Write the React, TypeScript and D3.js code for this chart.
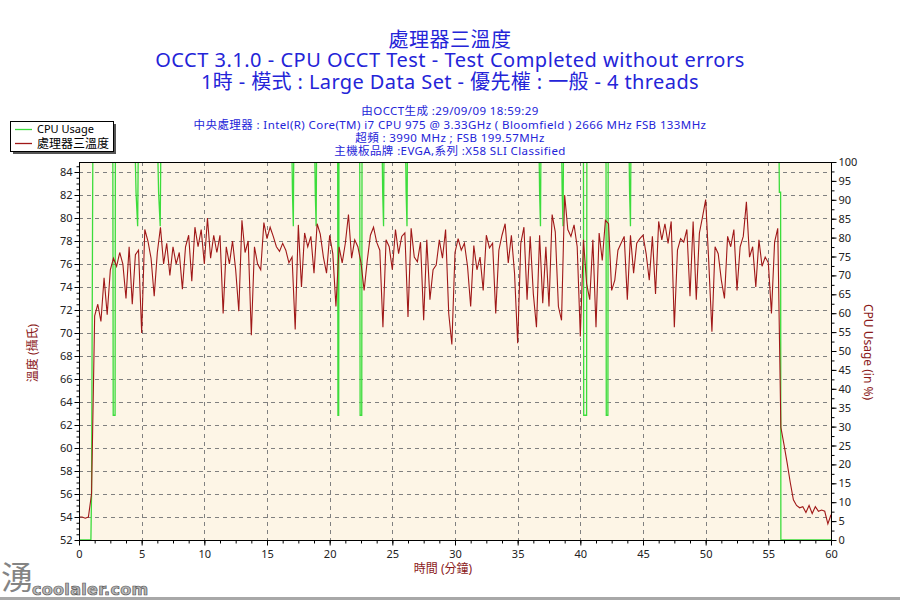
import { useEffect, useRef } from 'react';
import * as d3 from 'd3';

// one temperature reading every 15 seconds (0 .. 60 min)
const SAMPLE_MINUTES = 0.25;
const temperature = [
  54.0, 54.0, 53.9, 54.0, 56.0, 71.5, 72.5, 71.0, 74.8, 71.6,
  75.5, 76.5, 75.8, 77.0, 76.0, 73.0, 77.5, 72.5, 76.8, 77.2,
  70.0, 79.0, 78.0, 76.5, 73.2, 77.0, 79.2, 76.0, 77.8, 75.0,
  77.5, 76.0, 77.0, 73.8, 77.5, 78.5, 74.5, 79.2, 77.5, 79.0,
  76.0, 80.0, 76.5, 78.5, 77.0, 78.5, 71.7, 77.5, 76.0, 78.0,
  75.5, 71.9, 79.8, 77.0, 78.0, 69.8, 77.5, 76.0, 75.5, 79.6,
  78.2, 79.2, 78.4, 77.5, 77.1, 77.8, 77.2, 76.1, 76.6, 70.3,
  79.4, 74.0, 78.7, 77.5, 78.4, 75.2, 79.5, 78.6, 76.6, 75.2,
  78.5, 76.9, 72.3, 77.5, 76.1, 77.8, 80.3, 76.5, 78.1, 77.5,
  76.1, 73.7, 76.3, 78.5, 79.2, 77.9, 77.2, 70.5, 78.1, 77.5,
  75.5, 79.0, 76.9, 78.4, 78.7, 71.4, 79.1, 76.6, 76.2, 77.9,
  71.1, 78.1, 72.9, 75.5, 75.9, 78.1, 76.5, 79.0, 71.7, 69.0,
  77.0, 78.2, 77.2, 77.8, 75.8, 72.3, 77.6, 75.5, 76.6, 73.7,
  78.5, 77.4, 77.8, 71.7, 77.2, 78.5, 79.5, 76.1, 78.5, 75.2,
  69.1, 77.8, 79.2, 72.9, 78.4, 73.4, 70.5, 78.5, 72.6, 77.5,
  72.3, 80.3, 78.8, 72.3, 71.1, 82.0, 79.0, 78.4, 79.4, 77.5,
  69.7, 78.1, 74.3, 72.9, 78.1, 70.5, 78.7, 76.3, 79.8, 79.5,
  73.7, 74.6, 77.2, 77.8, 78.4, 72.9, 78.5, 75.2, 77.8, 78.2,
  78.5, 76.9, 74.6, 78.4, 73.4, 79.7, 78.1, 79.5, 77.8, 79.7,
  70.5, 77.2, 78.2, 77.9, 79.0, 73.2, 79.7, 72.9, 78.7, 80.1,
  81.6, 76.1, 70.1, 77.5, 76.9, 74.6, 73.0, 78.4, 77.5, 79.0,
  73.7, 77.5, 78.4, 81.4, 76.6, 77.5, 74.0, 78.1, 75.8, 76.6,
  76.1, 71.7, 77.9, 79.1, 61.8, 60.3, 58.7, 57.0, 55.5, 55.0,
  54.8, 54.9, 54.4, 55.0, 54.3, 54.9, 54.5, 54.6, 54.5, 53.4,
  54.2,
];

// CPU usage break points (minutes, %)
const cpuMinutes = [
  0, 0.95, 1.0, 1.1,
  2.7, 2.73, 2.88, 2.9,
  4.5, 4.55, 4.68, 4.72,
  6.3, 6.35, 6.48, 6.52,
  17.0, 17.03, 17.1, 17.13,
  18.82, 18.85, 18.92, 18.95,
  20.64, 20.66, 20.72, 20.74,
  22.4, 22.43, 22.56, 22.58,
  24.2, 24.23, 24.3, 24.33,
  26.07, 26.1, 26.17, 26.2,
  36.72, 36.75, 36.82, 36.85,
  38.52, 38.55, 38.62, 38.65,
  40.25, 40.27, 40.5, 40.52,
  42.05, 42.07, 42.2, 42.22,
  43.9, 43.93, 44.0, 44.03,
  55.86, 55.88, 55.98, 56.0, 60,
];
const cpuUsage = [
  0, 0, 12, 100,
  100, 33, 33, 100,
  100, 92, 83, 100,
  100, 92, 83, 100,
  100, 92, 83, 100,
  100, 92, 83, 100,
  100, 33, 33, 100,
  100, 33, 33, 100,
  100, 92, 83, 100,
  100, 92, 83, 100,
  100, 92, 83, 100,
  100, 92, 83, 100,
  100, 33, 33, 100,
  100, 33, 33, 100,
  100, 92, 83, 100,
  100, 92, 92, 0, 0,
];

const minuteTicks = [0, 5, 10, 15, 20, 25, 30, 35, 40, 45, 50, 55, 60];
const tempTicks = [52, 54, 56, 58, 60, 62, 64, 66, 68, 70, 72, 74, 76, 78, 80, 82, 84];
const usageTicks = [0, 5, 10, 15, 20, 25, 30, 35, 40, 45, 50, 55, 60, 65, 70, 75, 80, 85, 90, 95, 100];

const titleLines = [
  '處理器三溫度',
  'OCCT 3.1.0 - CPU OCCT Test - Test Completed without errors',
  '1時 - 模式 : Large Data Set - 優先權 : 一般 - 4 threads',
];
const infoLines = [
  '由OCCT生成 :29/09/09 18:59:29',
  '中央處理器 : Intel(R) Core(TM) i7 CPU 975 @ 3.33GHz ( Bloomfield ) 2666 MHz FSB 133MHz',
  '超頻 : 3990 MHz ; FSB 199.57MHz',
  '主機板品牌 :EVGA,系列 :X58 SLI Classified',
];
const seriesNames = ['CPU Usage', '處理器三溫度'];

const FONT = "'Noto Sans', 'Noto Sans CJK TC', sans-serif";
const GREEN = '#3cdc3c';
const RED = '#a01818';
const AXIS_RED = '#8b1a1a';
const BLUE = '#2424d8';

function App() {
  const svgRef = useRef<SVGSVGElement>(null);

  useEffect(() => {
    const width = 900;
    const height = 600;
    const plot = { left: 79, right: 831, top: 162, bottom: 540 };

    const svg = d3.select(svgRef.current);
    svg.selectAll('*').remove();
    svg.attr('width', width).attr('height', height).style('font-family', FONT);

    svg.append('rect').attr('width', width).attr('height', height).attr('fill', '#fff');

    const x = d3.scaleLinear().domain([0, 60]).range([plot.left, plot.right]);
    const yT = d3.scaleLinear().domain([52, 84]).range([plot.bottom, 172]);
    const yC = d3.scaleLinear().domain([0, 100]).range([plot.bottom, plot.top]);

    // plot background
    svg.append('rect')
      .attr('x', plot.left).attr('y', plot.top)
      .attr('width', plot.right - plot.left).attr('height', plot.bottom - plot.top)
      .attr('fill', '#fdf5e6');

    // grid
    const grid = svg.append('g').attr('stroke', '#808080').attr('stroke-dasharray', '4,4').attr('stroke-width', 1);
    tempTicks.filter(t => t > 52).forEach(t => {
      grid.append('line')
        .attr('x1', plot.left).attr('x2', plot.right)
        .attr('y1', Math.round(yT(t)) + 0.5).attr('y2', Math.round(yT(t)) + 0.5);
    });
    minuteTicks.filter(m => m > 0 && m < 60).forEach(m => {
      grid.append('line')
        .attr('y1', plot.top).attr('y2', plot.bottom)
        .attr('x1', Math.round(x(m)) + 0.5).attr('x2', Math.round(x(m)) + 0.5);
    });

    // series
    svg.append('clipPath').attr('id', 'plot-clip')
      .append('rect')
      .attr('x', plot.left).attr('y', plot.top)
      .attr('width', plot.right - plot.left).attr('height', plot.bottom - plot.top);

    const cpuData = cpuMinutes.map((m, i) => [m, cpuUsage[i]] as [number, number]);
    const tempData = temperature.map((v, i) => [i * SAMPLE_MINUTES, v] as [number, number]);

    const cpuLine = d3.line<[number, number]>().x(d => x(d[0])).y(d => yC(d[1]));
    const tempLine = d3.line<[number, number]>().x(d => x(d[0])).y(d => yT(d[1]));

    const series = svg.append('g').attr('clip-path', 'url(#plot-clip)');
    series.append('path')
      .datum(cpuData)
      .attr('fill', 'none').attr('stroke', GREEN).attr('stroke-width', 1.3)
      .attr('d', cpuLine);
    series.append('path')
      .datum(tempData)
      .attr('fill', 'none').attr('stroke', RED).attr('stroke-width', 1.1)
      .attr('d', tempLine);

    // frame
    svg.append('rect')
      .attr('x', plot.left + 0.5).attr('y', plot.top + 0.5)
      .attr('width', plot.right - plot.left).attr('height', plot.bottom - plot.top)
      .attr('fill', 'none').attr('stroke', '#000').attr('stroke-width', 1);

    const styleAxis = (g: d3.Selection<SVGGElement, unknown, null, undefined>) => {
      g.select('.domain').remove();
      g.selectAll('line').attr('stroke', '#000');
      g.selectAll('text').attr('fill', '#222').style('font-size', '11px').style('font-family', FONT);
    };

    // left axis
    svg.append('g')
      .attr('transform', `translate(${plot.left + 0.5},0)`)
      .call(d3.axisLeft(yT).tickValues(d3.range(52, 84.9, 0.5)).tickSize(3).tickFormat(() => ''))
      .call(styleAxis);
    svg.append('g')
      .attr('transform', `translate(${plot.left + 0.5},0)`)
      .call(d3.axisLeft(yT).tickValues(tempTicks).tickSize(5).tickPadding(2))
      .call(styleAxis);

    // right axis
    svg.append('g')
      .attr('transform', `translate(${plot.right + 0.5},0)`)
      .call(d3.axisRight(yC).tickValues(d3.range(0, 100.1, 2.5)).tickSize(3).tickFormat(() => ''))
      .call(styleAxis);
    svg.append('g')
      .attr('transform', `translate(${plot.right + 0.5},0)`)
      .call(d3.axisRight(yC).tickValues(usageTicks).tickSize(5).tickPadding(2))
      .call(styleAxis);

    // bottom axis
    svg.append('g')
      .attr('transform', `translate(0,${plot.bottom + 0.5})`)
      .call(d3.axisBottom(x).tickValues(d3.range(0, 60.1, 1.25)).tickSize(3).tickFormat(() => ''))
      .call(styleAxis);
    svg.append('g')
      .attr('transform', `translate(0,${plot.bottom + 0.5})`)
      .call(d3.axisBottom(x).tickValues(minuteTicks).tickSize(5).tickPadding(5))
      .call(styleAxis);

    // axis titles
    svg.append('text')
      .attr('transform', 'translate(37,353) rotate(-90)')
      .attr('text-anchor', 'middle')
      .attr('fill', AXIS_RED).style('font-size', '12px')
      .text('溫度 (攝氏)');
    svg.append('text')
      .attr('transform', 'translate(864,352) rotate(90)')
      .attr('text-anchor', 'middle')
      .attr('fill', AXIS_RED).style('font-size', '12px')
      .text('CPU Usage (in %)');
    svg.append('text')
      .attr('x', 443).attr('y', 573)
      .attr('text-anchor', 'middle')
      .attr('fill', AXIS_RED).style('font-size', '12px')
      .text('時間 (分鐘)');

    // titles
    const titleY = [47, 67, 89];
    const titleSize = [20, 20, 20];
    const titleSpacing = [0.5, 0.5, 0.4];
    titleLines.forEach((t, i) => {
      svg.append('text')
        .attr('x', 450).attr('y', titleY[i])
        .attr('text-anchor', 'middle')
        .attr('fill', BLUE)
        .style('font-size', `${titleSize[i]}px`)
        .style('letter-spacing', `${titleSpacing[i]}px`)
        .text(t);
    });
    const infoY = [115, 128.5, 142, 155];
    infoLines.forEach((t, i) => {
      svg.append('text')
        .attr('x', 450).attr('y', infoY[i])
        .attr('text-anchor', 'middle')
        .attr('fill', BLUE)
        .style('font-size', '11.5px')
        .style('letter-spacing', '0.4px')
        .text(t);
    });

    // legend
    const legend = svg.append('g').attr('transform', 'translate(10,121)');
    legend.append('rect').attr('x', 3).attr('y', 3).attr('width', 103).attr('height', 30).attr('fill', '#555');
    legend.append('rect').attr('x', 0.5).attr('y', 0.5).attr('width', 103).attr('height', 30)
      .attr('fill', '#fff').attr('stroke', '#000');
    [GREEN, RED].forEach((c, i) => {
      const ly = 8.5 + i * 14;
      legend.append('line').attr('x1', 5).attr('x2', 22).attr('y1', ly).attr('y2', ly)
        .attr('stroke', c).attr('stroke-width', 1.3);
      legend.append('text').attr('x', 27).attr('y', ly).attr('dy', '0.35em')
        .attr('fill', '#000').style('font-size', i === 0 ? '11px' : '12px')
        .text(seriesNames[i]);
    });

    // watermark
    svg.append('text')
      .attr('x', 1).attr('y', 589)
      .attr('fill', '#666').attr('opacity', 0.8)
      .style('font-size', '32px')
      .text('湧');
    svg.append('text')
      .attr('x', 32).attr('y', 595)
      .attr('fill', '#b8b8b8').attr('stroke', '#555').attr('stroke-width', 0.7)
      .style('font-size', '16px').style('font-weight', 'bold')
      .style('letter-spacing', '0.3px')
      .style('font-family', "'DejaVu Sans', sans-serif")
      .text('coolaler.com');

    svg.append('rect').attr('x', 0).attr('y', 597).attr('width', width).attr('height', 3).attr('fill', '#a8a8a8');
  }, []);

  return (
    <svg ref={svgRef} style={{ position: 'absolute', left: 0, top: 0, display: 'block' }}></svg>
  );
}

export default App;
